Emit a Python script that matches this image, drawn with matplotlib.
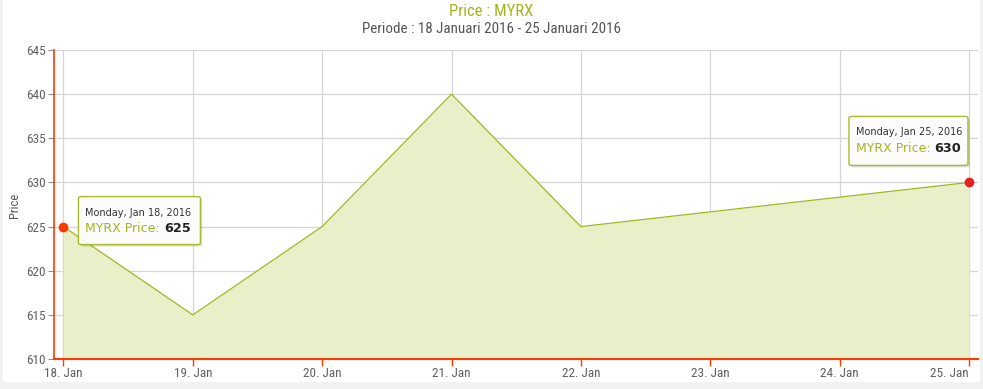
import matplotlib
matplotlib.use("Agg")
import matplotlib.pyplot as plt
import matplotlib.dates as mdates
from matplotlib.patches import FancyBboxPatch
from matplotlib import font_manager
import pandas as pd

# ---- data ----
dates = ["2016-01-18", "2016-01-19", "2016-01-20", "2016-01-21", "2016-01-22", "2016-01-25"]
prices = [625, 615, 625, 640, 625, 630]
tick_dates = ["2016-01-18", "2016-01-19", "2016-01-20", "2016-01-21",
              "2016-01-22", "2016-01-23", "2016-01-24", "2016-01-25"]
tick_labels = ["18. Jan", "19. Jan", "20. Jan", "21. Jan", "22. Jan", "23. Jan", "24. Jan", "25. Jan"]
y_ticks = [610, 615, 620, 625, 630, 635, 640, 645]
title = "Price : MYRX"
subtitle = "Periode : 18 Januari 2016 - 25 Januari 2016"
tooltips = [("Monday, Jan 18, 2016", 625, 0), ("Monday, Jan 25, 2016", 630, 5)]

avail = {f.name for f in font_manager.fontManager.ttflist}
def pick(*names):
    for n in names:
        if n in avail:
            return n
    return "DejaVu Sans"
narrow = pick("Liberation Sans Narrow", "DejaVu Sans Condensed", "Roboto Condensed", "Roboto")
plt.rcParams['font.family'] = [narrow, 'DejaVu Sans']

W, H = 983, 389
fig = plt.figure(figsize=(W / 100, H / 100), dpi=100, facecolor="#f2f2f2")

def fx(px):
    return px / W
def fy(py):
    return 1 - py / H

# white panel
panel = FancyBboxPatch((fx(3), fy(382)), fx(977), fy(-10) - fy(382),
                       boxstyle="round,pad=0,rounding_size=0.006",
                       transform=fig.transFigure, facecolor="white", edgecolor="none", zorder=-5)
fig.patches.append(panel)

x = pd.to_datetime(dates)
xt = pd.to_datetime(tick_dates)

ax = fig.add_axes([fx(54), fy(359), fx(978) - fx(54), fy(50) - fy(359)])
ax.set_facecolor("none")
ax.set_zorder(1)

green = "#a4b61c"
fill = "#e9efc8"
red = "#ff3a00"

ax.fill_between(x, prices, 610, color=fill, zorder=2, linewidth=0)
ax.plot(x, prices, color=green, linewidth=0.9, zorder=3)

x0 = mdates.date2num(xt[0])
x1 = mdates.date2num(xt[-1])
ax.set_xlim(x0 - 0.073, x1 + 0.07)
ax.set_ylim(610, 645)
ax.set_xticks(xt)
ax.set_xticklabels(tick_labels)
ax.set_yticks(y_ticks)
ax.grid(True, color="#d6d6d6", linewidth=0.9, zorder=1)
ax.set_axisbelow(True)

for s in ["top", "right"]:
    ax.spines[s].set_visible(False)
ax.spines["left"].set_color(red)
ax.spines["bottom"].set_color(red)
ax.spines["left"].set_linewidth(1.2)
ax.spines["bottom"].set_linewidth(1.5)
ax.spines["left"].set_zorder(5)
ax.spines["bottom"].set_zorder(5)

ax.tick_params(axis="x", colors=red, length=5, width=1, labelcolor="#606060", labelsize=9.5, pad=1)
ax.tick_params(axis="y", colors="#909090", length=4, width=0.8, labelcolor="#606060", labelsize=9.5, pad=2)
ax.set_ylabel("Price", color="#555", fontsize=9)
ax.yaxis.set_label_coords(fx(21), fy(205), transform=fig.transFigure)
last = ax.get_xticklabels()[-1]
last.set_ha("right")

fig.text(0.5, fy(12), title, color=green, fontsize=12, ha="center", va="center")
fig.text(0.5, fy(29), subtitle, color="#555", fontsize=10.8, ha="center", va="center")

# markers and tooltips
marker_colors = ["#ff3a00", "#e8201f"]
box_specs = [(15, -30, 122, 48), (-120, -66, 119, 49)]  # dx, dy(top offset), w, h in pixels relative to point
fig.canvas.draw()
for (label, val, idx), mc, (dx, dy, bw, bh) in zip(tooltips, marker_colors, box_specs):
    xd = x[idx]
    ax.plot([xd], [val], "o", color=mc, markersize=6, zorder=6, clip_on=False)
    px, py_disp = ax.transData.transform((mdates.date2num(xd), val))
    py = H - py_disp
    left = px + dx
    top = py + dy
    sh = FancyBboxPatch((fx(left + 2), fy(top + bh + 2)), fx(bw), fy(top) - fy(top + bh),
                        boxstyle="round,pad=0,rounding_size=0.004", transform=fig.transFigure,
                        facecolor="#000000", alpha=0.12, edgecolor="none", zorder=7)
    fig.patches.append(sh)
    bx = FancyBboxPatch((fx(left), fy(top + bh)), fx(bw), fy(top) - fy(top + bh),
                        boxstyle="round,pad=0,rounding_size=0.004", transform=fig.transFigure,
                        facecolor="white", alpha=0.93, edgecolor=green, linewidth=1.0, zorder=8)
    fig.patches.append(bx)
    fig.text(fx(left + 7), fy(top + 16), label, color="#333", fontsize=7, ha="left", va="center",
             family=["DejaVu Sans"], zorder=9)
    t = fig.text(fx(left + 7), fy(top + 32), "MYRX Price: ", color=green, fontsize=9,
                 ha="left", va="center", family=["DejaVu Sans"], zorder=9)
    fig.canvas.draw()
    bb = t.get_window_extent()
    fig.text(bb.x1 / W, fy(top + 32), str(val), color="#222", fontsize=9.3, fontweight="bold",
             ha="left", va="center", family=["DejaVu Sans"], zorder=9)

fig.savefig("out.png", dpi=100, facecolor=fig.get_facecolor())
